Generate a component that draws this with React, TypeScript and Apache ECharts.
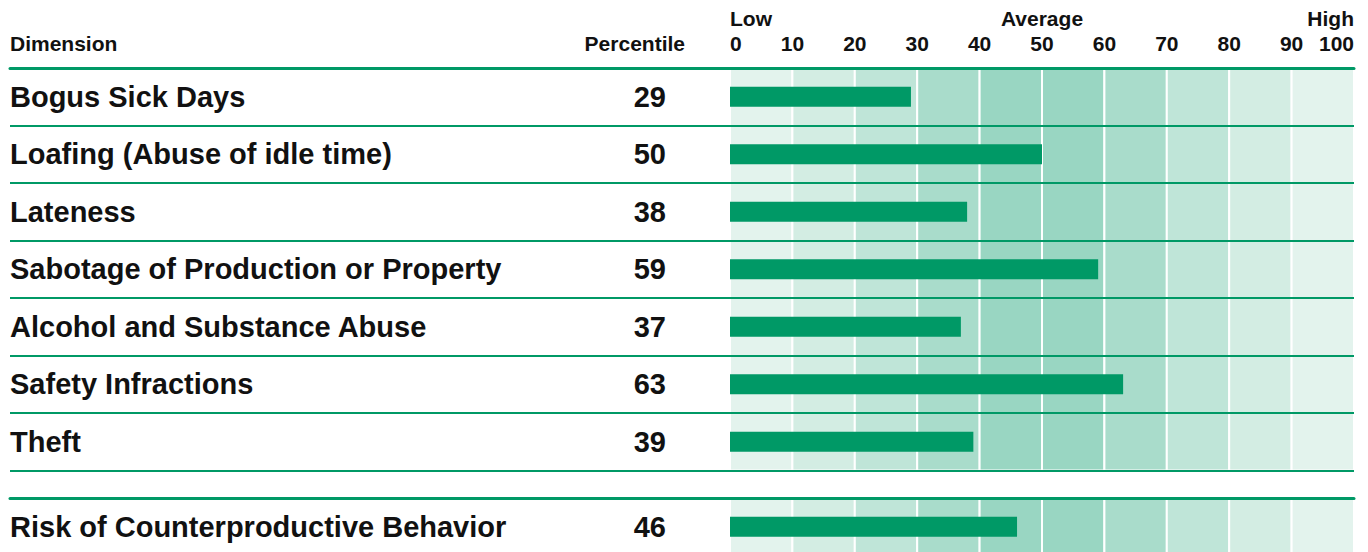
import React, { useEffect, useRef } from "react";
import * as echarts from "echarts";

const dimensions = [
  "Bogus Sick Days",
  "Loafing (Abuse of idle time)",
  "Lateness",
  "Sabotage of Production or Property",
  "Alcohol and Substance Abuse",
  "Safety Infractions",
  "Theft",
];
const percentiles = [29, 50, 38, 59, 37, 63, 39];
const overallDimension = ["Risk of Counterproductive Behavior"];
const overallPercentile = [46];
const bandStarts = [0, 10, 20, 30, 40, 50, 60, 70, 80, 90];
const bandColors = [
  "#e3f3ed", "#d3ede3", "#bfe5d8", "#a9dccb", "#99d6c2",
  "#99d6c2", "#a9dccb", "#bfe5d8", "#d3ede3", "#e3f3ed",
];
const scaleWords: Record<number, string> = { 0: "Low", 50: "Average", 100: "High" };

const GREEN = "#009966";
const TEXT = "#111111";
const FONT = "'Liberation Sans', Arial, Helvetica, sans-serif";

export default function App() {
  const ref = useRef<HTMLDivElement>(null);
  useEffect(() => {
    if (!ref.current) return;
    const chart = echarts.init(ref.current, null, { renderer: "svg" });
    const bands = bandStarts.map((s, i) => [
      { xAxis: s, itemStyle: { color: bandColors[i] } },
      { xAxis: s + 10 },
    ]);
    const markArea = {
      silent: true,
      label: { show: false },
      itemStyle: { borderColor: "#ffffff", borderWidth: 2 },
      data: bands,
    };
    const left = 730, right = 14;
    const top0 = 68, rowH = 57.5;
    const top1 = 498;
    const labelStyle = { fontFamily: FONT, fontWeight: "bold", fontSize: 29, color: TEXT };
    const headStyle = { fontFamily: FONT, fontWeight: "bold", fontSize: 21, color: TEXT };
    const gridBase = { outerBoundsMode: "none", containLabel: false };
    chart.setOption({
      animation: false,
      title: [
        { text: "Dimension", left: 10, top: 33, padding: 0, textStyle: { ...headStyle } },
        { text: "Percentile", right: 1368 - 685, top: 33, padding: 0, textStyle: { ...headStyle } },
      ],
      grid: [
        { ...gridBase, left, right, top: top0, height: rowH * dimensions.length },
        { ...gridBase, left, right, top: top1, height: rowH },
        { ...gridBase, left: 10, right, top: top0, height: rowH * dimensions.length },
        { ...gridBase, left: 10, right, top: top1, height: rowH },
      ],
      xAxis: [
        {
          gridIndex: 0, type: "value", position: "top", min: 0, max: 100, interval: 10,
          axisLine: { show: false }, axisTick: { show: false }, splitLine: { show: false },
          axisLabel: { ...headStyle, margin: 14, alignMinLabel: "left", alignMaxLabel: "right" },
        },
        {
          gridIndex: 0, type: "value", position: "top", offset: 25, min: 0, max: 100, interval: 10,
          axisLine: { show: false }, axisTick: { show: false }, splitLine: { show: false },
          axisLabel: {
            ...headStyle, margin: 14, alignMinLabel: "left", alignMaxLabel: "right",
            formatter: (v: number) => scaleWords[v] || "",
          },
        },
        { gridIndex: 1, type: "value", min: 0, max: 100, show: false },
        {
          gridIndex: 2, type: "value", position: "top", min: 0, max: 1, z: 6,
          axisLine: { show: true, lineStyle: { color: GREEN, width: 3 } },
          axisTick: { show: false }, axisLabel: { show: false }, splitLine: { show: false },
        },
        {
          gridIndex: 3, type: "value", position: "top", min: 0, max: 1, z: 6,
          axisLine: { show: true, lineStyle: { color: GREEN, width: 3 } },
          axisTick: { show: false }, axisLabel: { show: false }, splitLine: { show: false },
        },
      ],
      yAxis: [
        {
          gridIndex: 0, type: "category", position: "left", inverse: true, data: dimensions,
          axisLine: { show: false }, axisTick: { show: false }, splitLine: { show: false },
          axisLabel: { ...labelStyle, align: "left", margin: left - 10, interval: 0 },
        },
        {
          gridIndex: 0, type: "category", position: "left", inverse: true, data: percentiles.map(String),
          axisLine: { show: false }, axisTick: { show: false }, splitLine: { show: false },
          axisLabel: { ...labelStyle, align: "right", margin: left - 666, interval: 0 },
        },
        {
          gridIndex: 1, type: "category", position: "left", inverse: true, data: overallDimension,
          axisLine: { show: false }, axisTick: { show: false }, splitLine: { show: false },
          axisLabel: { ...labelStyle, align: "left", margin: left - 10, interval: 0 },
        },
        {
          gridIndex: 1, type: "category", position: "left", inverse: true, data: overallPercentile.map(String),
          axisLine: { show: false }, axisTick: { show: false }, splitLine: { show: false },
          axisLabel: { ...labelStyle, align: "right", margin: left - 666, interval: 0 },
        },
        {
          gridIndex: 2, type: "category", inverse: true, data: dimensions.map(() => ""), z: 6,
          axisLine: { show: false }, axisTick: { show: false }, axisLabel: { show: false },
          splitLine: { show: true, interval: 0, lineStyle: { color: GREEN, width: 2.2 } },
        },
        {
          gridIndex: 3, type: "category", inverse: true, data: [""],
          axisLine: { show: false }, axisTick: { show: false }, axisLabel: { show: false },
          splitLine: { show: false },
        },
      ],
      series: [
        {
          type: "bar", xAxisIndex: 0, yAxisIndex: 0, data: percentiles, barWidth: 20,
          itemStyle: { color: GREEN }, z: 3, markArea,
        },
        {
          type: "bar", xAxisIndex: 2, yAxisIndex: 2, data: overallPercentile, barWidth: 20,
          itemStyle: { color: GREEN }, z: 3, markArea,
        },
      ],
    });
    return () => chart.dispose();
  }, []);
  return (
    <div
      ref={ref}
      style={{ position: "fixed", left: 0, top: 0, width: 1368, height: 552, background: "#fff" }}
    />
  );
}
